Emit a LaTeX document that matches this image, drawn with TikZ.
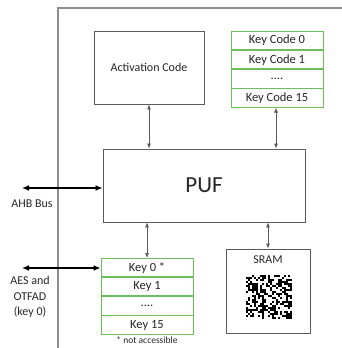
\documentclass[tikz,border=0pt]{standalone}
\usepackage{fontspec}
\setmainfont{Carlito}
\usetikzlibrary{arrows.meta,positioning}
\definecolor{rahmen}{HTML}{8C8C8C}
\definecolor{kante}{HTML}{5A5A5A}
\definecolor{gruen}{HTML}{6CBF5C}
\definecolor{schrift}{HTML}{262626}
\tikzset{
  box/.style={draw=kante,line width=0.9pt,fill=white,inner sep=0pt,font=\fontsize{12}{14}\selectfont,text=schrift},
  zeile/.style={draw=gruen,line width=0.9pt,fill=white,inner sep=0pt,minimum width=92pt,minimum height=18.25pt,font=\fontsize{12.5}{14}\selectfont,text=schrift},
  pfeil/.style={{Latex[length=5pt,width=4pt]}-{Latex[length=5pt,width=4pt]},kante,line width=0.7pt},
  bus/.style={{Latex[length=7pt,width=6pt]}-{Latex[length=7pt,width=6pt]},black,line width=1.6pt},
  etikett/.style={font=\fontsize{12}{15.5}\selectfont,text=schrift,align=center,inner sep=0pt},
}

\begin{document}
\begin{tikzpicture}[x=1pt,y=-1pt]
  \useasboundingbox (0,0) rectangle (342,348);
  \draw[rahmen,line width=1.2pt] (58,348) -- (58,8) -- (342,8);

  \node[box,minimum width=110pt,minimum height=73pt] (act) at (149,67.5) {Activation Code};

  \node[zeile,anchor=north] (kc0) at (277,31) {Key Code 0};
  \node[zeile,below=0pt of kc0] (kc1) {Key Code 1};
  \node[zeile,below=0pt of kc1] (kc2) {....};
  \node[zeile,below=0pt of kc2] (kc3) {Key Code 15};

  \node[box,minimum width=202pt,minimum height=73pt,font=\fontsize{23}{26}\selectfont] (puf) at (204,185.5) {PUF};

  \node[zeile,anchor=north] (k0) at (147,258) {Key 0 *};
  \node[zeile,below=0pt of k0] (k1) {Key 1};
  \node[zeile,below=0pt of k1] (k2) {....};
  \node[zeile,below=0pt of k2] (k3) {Key 15};
  \node[etikett,font=\fontsize{9.5}{11}\selectfont] (hinweis) at (147,340.5) {* not accessible};

  \node[box,minimum width=84pt,minimum height=84pt] (sram) at (268,291) {};
  \node[etikett,below=7pt of sram.north] (sramtxt) {SRAM};
  \pgfmathsetseed{4711}
  \foreach \i in {0,...,22}
    \foreach \j in {0,...,21}{
      \pgfmathparse{rnd<0.5 ? 1 : 0}
      \ifnum\pgfmathresult=1
        \fill[black] (246+2*\i,275+2*\j) rectangle ++(2,2);
      \fi
    }

  \draw[pfeil] (act.south) -- (act.south |- puf.north);
  \draw[pfeil] (kc3.south -| 276,0) -- (puf.north -| 276,0);
  \draw[pfeil] (puf.south -| k0.north) -- (k0.north);
  \draw[pfeil] (puf.south -| sram.north) -- (sram.north);

  \coordinate (ahb) at (22,188);
  \coordinate (aes) at (22,268);
  \draw[bus] (ahb) -- (puf.west |- ahb);
  \draw[bus] (aes) -- (k0.west |- aes);
  \node[etikett] (ahbtxt) at (32,204) {AHB Bus};
  \node[etikett,anchor=north] (aestxt) at (30,276) {AES and\\OTFAD\\(key 0)};
\end{tikzpicture}
\end{document}
